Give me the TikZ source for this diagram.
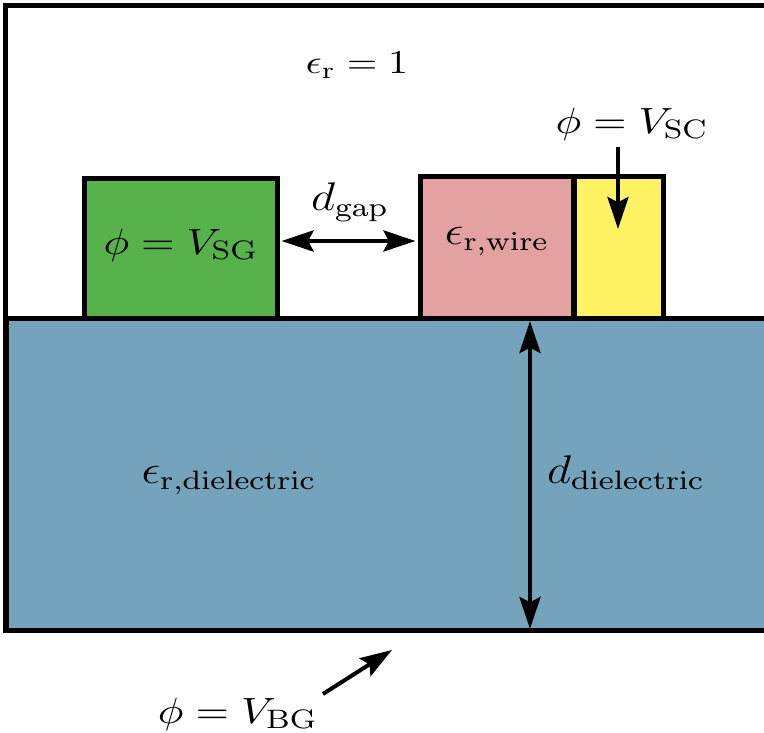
\documentclass[tikz,border=0pt]{standalone}
\usepackage{graphicx}
\usetikzlibrary{arrows.meta}
\definecolor{sgreen}{RGB}{88,178,75}
\definecolor{wpink}{RGB}{227,161,161}
\definecolor{scyell}{RGB}{255,242,99}
\definecolor{dblue}{RGB}{117,163,188}
\newcommand{\hstretch}[1]{\scalebox{1.18}[1]{#1}}
\tikzset{
  boxline/.style={draw=black, line width=1.5pt},
  dimarrow/.style={line width=1.2pt, {Stealth[length=9.6pt,width=6.3pt,inset=1.6pt]}-{Stealth[length=9.6pt,width=6.3pt,inset=1.6pt]}},
  ptrarrow/.style={line width=1.2pt, -{Stealth[length=9.6pt,width=6.3pt,inset=1.6pt]}},
  lbl/.style={inner sep=0pt, font=\fontsize{12.1}{15}\selectfont},
  philbl/.style={inner sep=0pt, font=\fontsize{11.1}{14}\selectfont},
  smalllbl/.style={inner sep=0pt, font=\fontsize{9.8}{12}\selectfont}
}
\begin{document}
\begin{tikzpicture}[x=0.3pt,y=-0.3pt]
\useasboundingbox (0,0) rectangle (764,733);
\clip (0,0) rectangle (764,733);
% outer vacuum box
\draw[boxline] (6,5.5) rectangle (820,631);
% dielectric
\draw[boxline, fill=dblue] (7,319) rectangle (820,631);
% gates and wire
\draw[boxline, fill=sgreen] (84.5,178.5) rectangle (278,319);
\draw[boxline, fill=wpink] (421,176.5) rectangle (574,319);
\draw[boxline, fill=scyell] (575,176.5) rectangle (663.5,319);
% labels
\node[smalllbl] (eps1) at (357,65) {\hstretch{$\epsilon_{\mathrm{r}} = 1$}};
\node[philbl] (vsc) at (632,124) {\hstretch{$\phi = V_{\mathrm{SC}}$}};
\node[lbl] (dgap) at (350,202) {\hstretch{$d_{\mathrm{gap}}$}};
\node[philbl] (vsg) at (181,245) {\hstretch{$\phi = V_{\mathrm{SG}}$}};
\node[lbl] (epsw) at (497,241) {\hstretch{$\epsilon_{\mathrm{r,wire}}$}};
\node[lbl] (epsd) at (229,480) {\hstretch{$\epsilon_{\mathrm{r,dielectric}}$}};
\node[lbl] (ddiel) at (626,473) {\hstretch{$d_{\mathrm{dielectric}}$}};
\node[philbl] (vbg) at (238,714) {\hstretch{$\phi = V_{\mathrm{BG}}$}};
% arrow end points
\coordinate (gapL) at (281.5,241);
\coordinate (gapR) at (415.5,241);
\coordinate (dtop) at (530,321);
\coordinate (dbot) at (530,629);
\coordinate (scs) at (618,147);
\coordinate (sce) at (618,229);
\coordinate (bgs) at (323,694);
\coordinate (bge) at (392,650);
\draw[dimarrow] (gapL) -- (gapR);
\draw[dimarrow] (dtop) -- (dbot);
\draw[ptrarrow] (scs) -- (sce);
\draw[ptrarrow] (bgs) -- (bge);
\end{tikzpicture}
\end{document}
